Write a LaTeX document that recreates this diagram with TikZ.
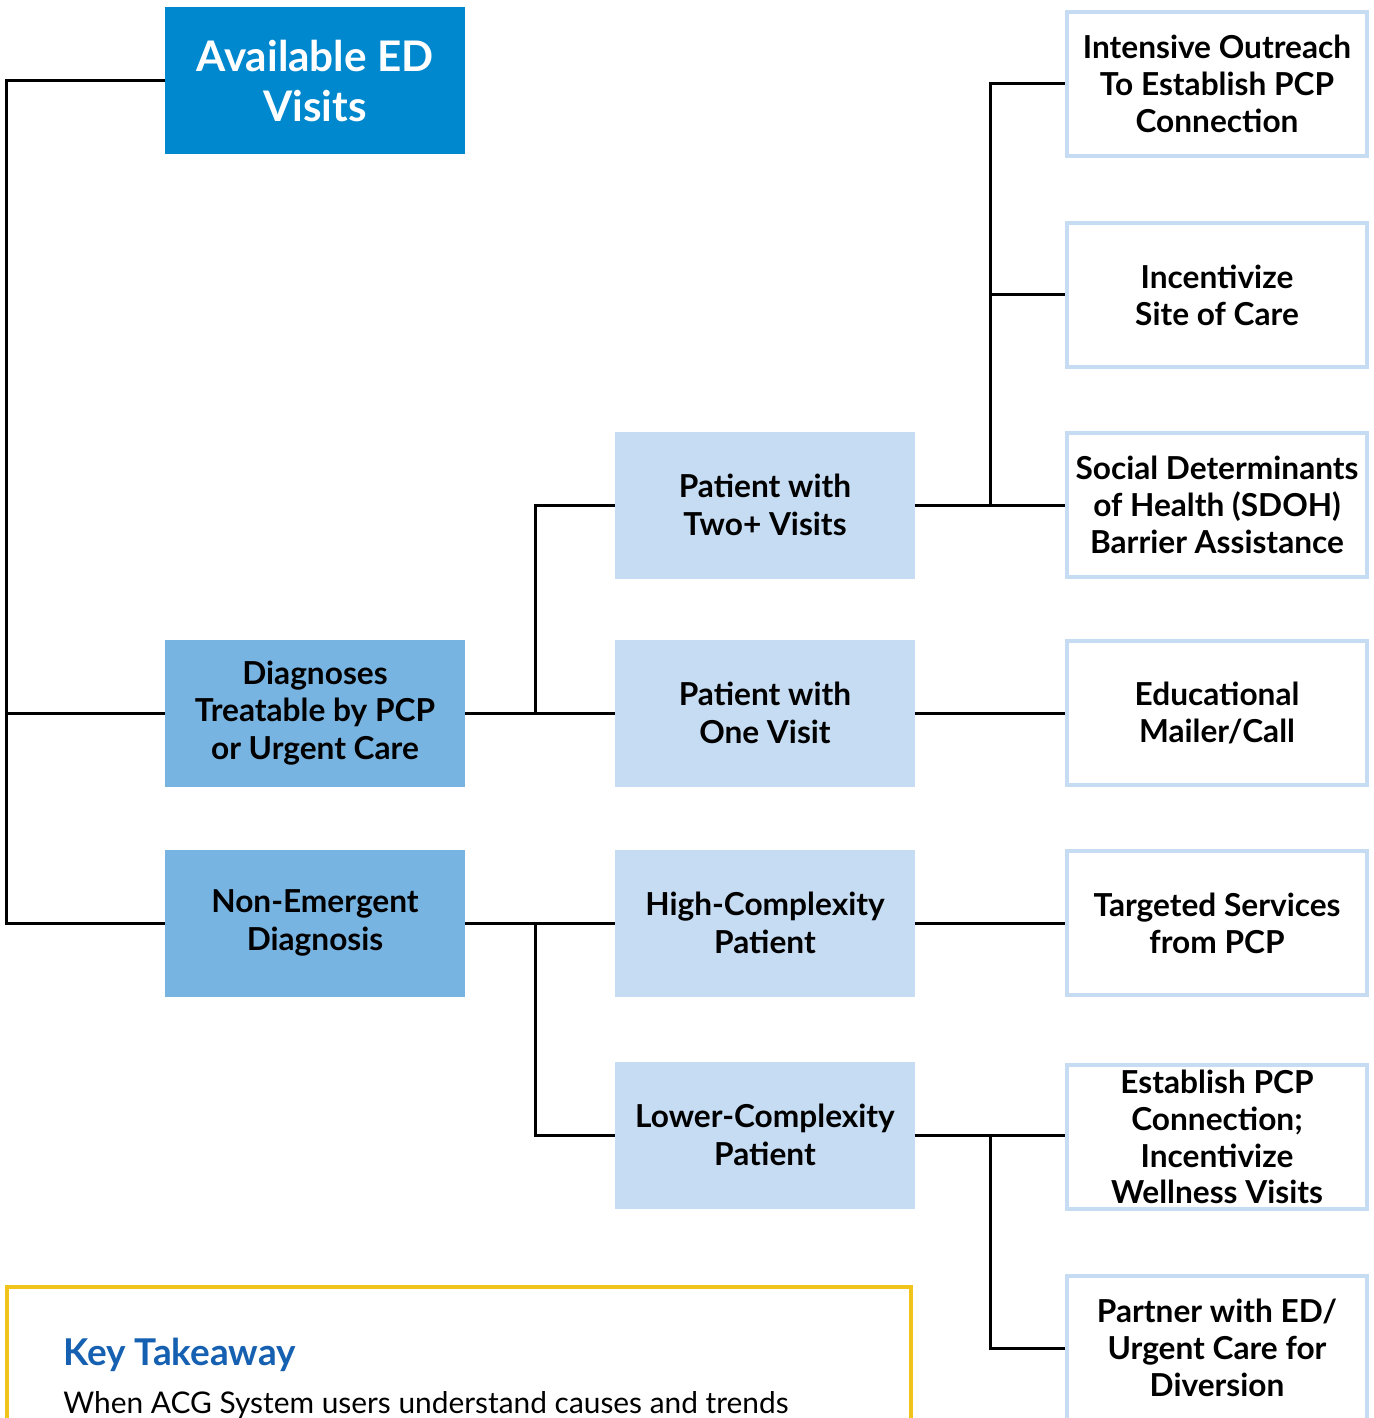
\documentclass[tikz,border=0pt]{standalone}
\usepackage{fontspec}
\setmainfont{Lato}
\definecolor{edblue}{HTML}{0088CE}
\definecolor{midblue}{HTML}{78B4E1}
\definecolor{paleblue}{HTML}{C6DCF3}
\definecolor{keyyellow}{HTML}{F0C41B}
\definecolor{keyblue}{HTML}{1560B0}
\tikzset{
	topbox/.style = {fill = edblue, text = white, minimum width = 60mm, minimum height = 29.4mm,
		align = center, font = \bfseries\fontsize{24}{29}\selectfont},
	groupbox/.style = {fill = midblue, minimum width = 60mm, minimum height = 29.4mm,
		align = center, font = \bfseries\fontsize{18}{21.5}\selectfont},
	patientbox/.style = {fill = paleblue, minimum width = 60mm, minimum height = 29.4mm,
		align = center, font = \bfseries\fontsize{18}{21.5}\selectfont},
	actionbox/.style = {draw = paleblue, line width = 0.8mm, fill = white, minimum width = 60mm,
		minimum height = 28.8mm, inner sep = 1mm, align = center, font = \bfseries\fontsize{18}{21}\selectfont},
	link/.style = {line width = 0.6mm}
}
\begin{document}
\begin{tikzpicture}[x = 0.2mm, y = -0.2mm]
	\useasboundingbox (0, 0) rectangle (1373, 1418);
	\clip (0, 0) rectangle (1373, 1418);
	% first column
	\node[topbox] (ed) at (315, 81) {Available ED\\Visits};
	\node[groupbox] (diag) at (315, 713) {Diagnoses\\Treatable by PCP\\or Urgent Care};
	\node[groupbox] (nonem) at (315, 923) {Non-Emergent\\Diagnosis};
	% second column
	\node[patientbox] (two) at (765, 505) {Patient with\\Two+ Visits};
	\node[patientbox] (one) at (765, 713) {Patient with\\One Visit};
	\node[patientbox] (high) at (765, 923) {High-Complexity\\Patient};
	\node[patientbox] (lower) at (765, 1135) {Lower-Complexity\\Patient};
	% third column
	\node[actionbox] (outreach) at (1217, 84) {Intensive Outreach\\To Establish PCP\\Connection};
	\node[actionbox] (site) at (1217, 295) {Incentivize\\Site of Care};
	\node[actionbox] (sdoh) at (1217, 505) {Social Determinants\\of Health (SDOH)\\Barrier Assistance};
	\node[actionbox] (mailer) at (1217, 713) {Educational\\Mailer/Call};
	\node[actionbox] (targeted) at (1217, 923) {Targeted Services\\from PCP};
	\node[actionbox] (wellness) at (1217, 1137) {Establish PCP\\Connection;\\Incentivize\\Wellness Visits};
	\node[actionbox] (partner) at (1217, 1348) {Partner with ED/\\Urgent Care for\\Diversion};
	% junctions
	\coordinate (trunk) at (6, 0);
	\coordinate (ja) at (535, 0);
	\coordinate (jb) at (990, 0);
	% links
	\draw[link] (ed.west) -- (ed.west -| trunk) |- (nonem.west);
	\draw[link] (diag.west) -- (diag.west -| trunk);
	\draw[link] (diag.east) -- (one.west);
	\draw[link] (diag.east -| ja) |- (two.west);
	\draw[link] (nonem.east) -- (high.west);
	\draw[link] (nonem.east -| ja) |- (lower.west);
	\draw[link] (two.east) -- (sdoh.west);
	\draw[link] (two.east -| jb) |- (outreach.west);
	\draw[link] (jb |- site.west) -- (site.west);
	\draw[link] (one.east) -- (mailer.west);
	\draw[link] (high.east) -- (targeted.west);
	\draw[link] (lower.east) -- (lower.east -| wellness.west);
	\draw[link] (lower.east -| jb) |- (partner.west);
	% key takeaway
	\draw[keyyellow, line width = 0.8mm] (7, 1500) |- (911, 1287) -- (911, 1500);
	\node[anchor = base west, inner sep = 0pt, text = keyblue, font = \bfseries\fontsize{21}{26}\selectfont] (key) at (63, 1365) {Key Takeaway};
	\node[anchor = base west, inner sep = 0pt, font = \fontsize{17}{21}\selectfont] (keytext) at (63, 1413) {When ACG System users understand causes and trends};
\end{tikzpicture}
\end{document}
